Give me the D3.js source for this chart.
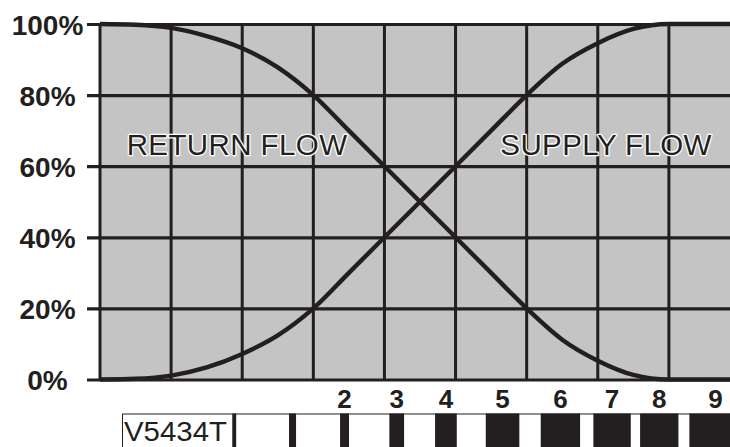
<!DOCTYPE html>
<html>
<head>
<meta charset="utf-8">
<script src="https://cdn.jsdelivr.net/npm/d3@7"></script>
<style>
  html, body { margin: 0; padding: 0; background: #ffffff; }
  svg { display: block; }
</style>
</head>
<body>
<script>
// ---- data ----
const strokePositions = [0, 0.5, 1, 1.5, 2, 2.5, 3, 3.5, 4, 4.5, 5, 5.5, 6, 6.5, 7, 7.5, 8, 9];
const returnFlow = [100, 99.8, 98.9, 96.6, 93.2, 87.8, 80, 70, 60, 50, 40, 30, 20, 11.2, 5.3, 1.3, 0, 0];
const supplyFlow = [0, 0.2, 1.1, 3.4, 7.2, 12.4, 20, 30, 40, 50, 60, 70, 80, 88.8, 94.6, 98.6, 100, 100];
const yTicks = [0, 20, 40, 60, 80, 100];
const xGrid = [0, 1, 2, 3, 4, 5, 6, 7, 8, 9];
const presetLabels = ["0", "1", "2", "3", "4", "5", "6", "7", "8", "9"];
const presetStart = [1.86, 2.658, 3.376, 4.069, 4.712, 5.425, 6.198, 6.938, 7.595, 8.288];
const presetEnd = [1.915, 2.757, 3.502, 4.276, 5.017, 5.897, 6.751, 7.464, 8.134, 9.02];
const shownPresets = ["2", "3", "4", "5", "6", "7", "8", "9"];
const seriesNames = ["RETURN FLOW", "SUPPLY FLOW"];
const modelName = "V5434T";

// ---- layout ----
const W = 730, H = 447;
const ink = "#231f20";
const x = d3.scaleLinear().domain([0, 9]).range([100, 740]);
const y = d3.scaleLinear().domain([0, 100]).range([379.5, 24]);

const svg = d3.select("body").append("svg")
  .attr("width", W).attr("height", H)
  .style("font-family", "'Liberation Sans', Arial, sans-serif");

// plot background
svg.append("rect")
  .attr("x", x(0)).attr("y", y(100))
  .attr("width", x(9) - x(0)).attr("height", y(0) - y(100))
  .attr("fill", "#c4c4c4");

// vertical grid
svg.append("g").selectAll("line").data(xGrid).join("line")
  .attr("x1", d => x(d)).attr("x2", d => x(d))
  .attr("y1", y(100)).attr("y2", y(0))
  .attr("stroke", ink).attr("stroke-width", 3);

// horizontal grid + ticks via axis
const yAxis = d3.axisLeft(y).tickValues(yTicks).tickSize(0).tickFormat(d => d + "%");
const gy = svg.append("g").attr("transform", `translate(${x(0)},0)`).call(yAxis);
gy.select(".domain").remove();
gy.selectAll(".tick line")
  .attr("x1", -13).attr("x2", x(9) - x(0))
  .attr("stroke", ink).attr("stroke-width", 3.2);
gy.selectAll(".tick text")
  .attr("x", 47.5 - x(0)).attr("dy", "0.36em")
  .attr("text-anchor", "middle")
  .attr("fill", ink)
  .style("font-size", "28px").style("font-weight", "bold")
  .style("font-family", "'Liberation Sans', Arial, sans-serif");

// curves
const line = d3.line()
  .x((d, i) => x(strokePositions[i]))
  .y(d => y(d))
  .curve(d3.curveMonotoneX);
[returnFlow, supplyFlow].forEach(s => {
  svg.append("path").attr("d", line(s))
    .attr("fill", "none").attr("stroke", ink)
    .attr("stroke-width", 4.4).attr("stroke-linecap", "butt");
});

// series labels
const labelPos = [{u: 0.375, v: 63.1}, {u: 5.63, v: 63.1}];
seriesNames.forEach((name, i) => {
  svg.append("text")
    .attr("x", x(labelPos[i].u)).attr("y", y(labelPos[i].v))
    .text(name)
    .attr("fill", ink)
    .attr("stroke", "#ffffff").attr("stroke-width", 2.6)
    .attr("paint-order", "stroke")
    .attr("stroke-linejoin", "round")
    .style("font-size", "29.5px")
    .style("letter-spacing", "0.4px");
});

// bottom preset strip
const stripTop = 414;
svg.append("rect")
  .attr("x", 122.5).attr("y", stripTop)
  .attr("width", x(9.2) - 122.5).attr("height", 60)
  .attr("fill", "#ffffff").attr("stroke", ink).attr("stroke-width", 1);

svg.append("text")
  .attr("x", 124).attr("y", 441)
  .text(modelName)
  .attr("fill", ink)
  .attr("textLength", 103).attr("lengthAdjust", "spacingAndGlyphs")
  .style("font-size", "28px");

const presets = presetLabels.map((p, i) => ({p, s: presetStart[i], e: presetEnd[i]}));
svg.append("g").selectAll("rect").data(presets).join("rect")
  .attr("x", d => x(d.s)).attr("y", stripTop - 0.5)
  .attr("width", d => x(d.e) - x(d.s)).attr("height", 60)
  .attr("fill", ink);

svg.append("g").selectAll("text").data(presets.filter(d => shownPresets.includes(d.p))).join("text")
  .attr("x", d => x((d.s + d.e) / 2)).attr("y", 408)
  .attr("text-anchor", "middle")
  .attr("fill", ink)
  .style("font-size", "26px").style("font-weight", "bold")
  .text(d => d.p);
</script>
</body>
</html>
